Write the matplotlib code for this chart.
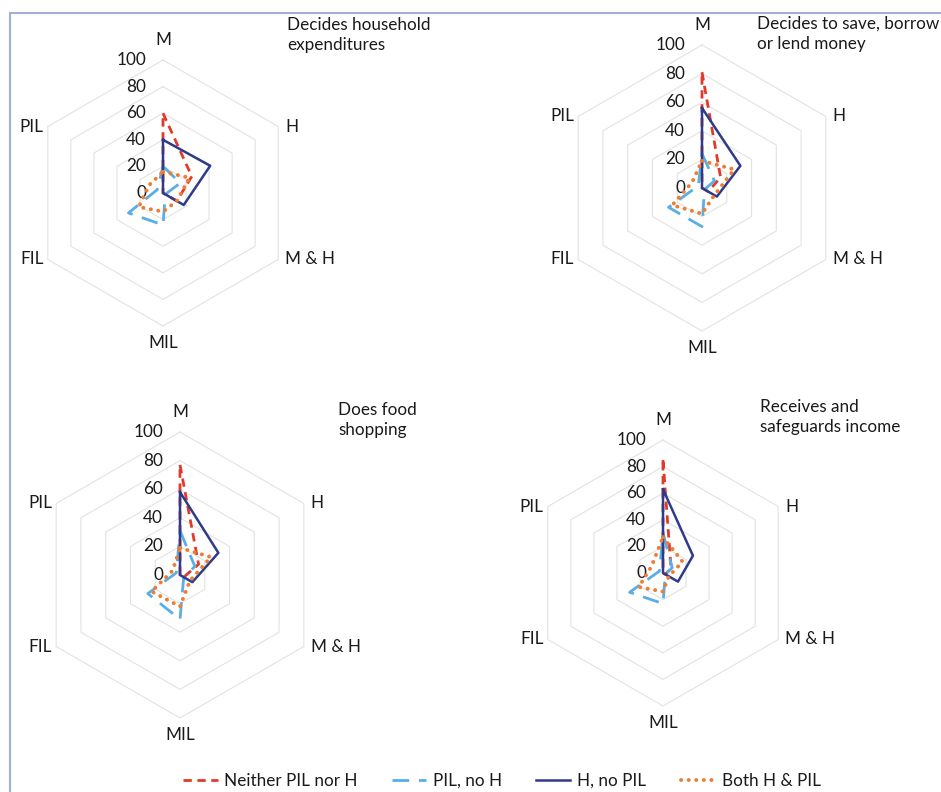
import numpy as np
import matplotlib
matplotlib.use("Agg")
import matplotlib.pyplot as plt
from matplotlib.lines import Line2D
from matplotlib.patches import Rectangle

plt.rcParams['font.family'] = ['Lato', 'DejaVu Sans']

# ---------------- data ----------------
categories = ["M", "H", "M & H", "MIL", "FIL", "PIL"]
ring_values = [0, 20, 40, 60, 80, 100]
series_names = ["Neither PIL nor H", "PIL, no H", "H, no PIL", "Both H & PIL"]

titles = ["Decides household\nexpenditures",
          "Decides to save, borrow\nor lend money",
          "Does food\nshopping",
          "Receives and\nsafeguards income"]

# order: M, H, M & H, MIL, FIL, PIL
p1_neither = [60, 25, 12, 0, 0, 0]
p1_pil_no_h = [20, 15, 2, 24, 30, 5]
p1_h_no_pil = [40, 41, 18, 0, 0, 0]
p1_both = [16, 23, 12, 14, 21, 12]

p2_neither = [81, 15, 5, 0, 0, 0]
p2_pil_no_h = [24, 10, 2, 27, 27, 3]
p2_h_no_pil = [56, 31, 12, 0, 0, 0]
p2_both = [19, 26, 10, 18, 24, 8]

p3_neither = [77, 15, 3, 0, 0, 0]
p3_pil_no_h = [31, 12, 3, 31, 26, 3]
p3_h_no_pil = [58, 31, 10, 0, 0, 0]
p3_both = [19, 25, 8, 22, 23, 6]

p4_neither = [85, 7, 2, 0, 0, 0]
p4_pil_no_h = [30, 8, 2, 23, 29, 3]
p4_h_no_pil = [63, 26, 13, 0, 0, 0]
p4_both = [27, 17, 5, 14, 21, 10]

panels_data = [
    [p1_neither, p1_pil_no_h, p1_h_no_pil, p1_both],
    [p2_neither, p2_pil_no_h, p2_h_no_pil, p2_both],
    [p3_neither, p3_pil_no_h, p3_h_no_pil, p3_both],
    [p4_neither, p4_pil_no_h, p4_h_no_pil, p4_both],
]

# ---------------- layout ----------------
W, H = 941, 792
fig = plt.figure(figsize=(W / 100, H / 100), dpi=100)
fig.patch.set_facecolor("white")

# centre (px), radius of 100-ring (px), title anchor (px)
panel_geom = [
    dict(cx=163, cy=193, R=133, tx=287, ty=17),
    dict(cx=702, cy=188, R=143, tx=757, ty=16),
    dict(cx=180, cy=575, R=143, tx=338, ty=402),
    dict(cx=663, cy=573, R=133, tx=760, ty=399),
]

styles = [
    dict(color="#e23a2a", lw=2.0, dashes=(3, 2), dash_capstyle="butt"),
    dict(color="#5aaee3", lw=2.0, dashes=(6, 3.5), dash_capstyle="butt"),
    dict(color="#2e3b8a", lw=1.8, linestyle="-"),
    dict(color="#ee7d31", lw=2.8, dashes=(0.05, 1.9), dash_capstyle="round"),
]

angles = np.deg2rad(np.arange(6) * 60.0)
sx, sy = np.sin(angles), np.cos(angles)
FS = 12.3
TC = "#1a1a1a"

for g, data, title in zip(panel_geom, panels_data, titles):
    cx, cy, R = g["cx"], g["cy"], g["R"]
    half = 1.25 * R
    lim = 125.0
    ax = fig.add_axes([(cx - half) / W, (H - cy - half) / H, 2 * half / W, 2 * half / H])
    ax.set_xlim(-lim, lim)
    ax.set_ylim(-lim, lim)
    ax.set_aspect("equal")
    ax.axis("off")
    px = 100.0 / R  # data units per pixel

    # hexagonal rings
    for v in ring_values[1:]:
        xs = np.append(v * sx, v * sx[0])
        ys = np.append(v * sy, v * sy[0])
        ax.plot(xs, ys, color="#e2e2e2", lw=0.8, zorder=1)

    # ring labels
    for v in ring_values:
        ax.text(-17 * px, v, str(v), ha="right", va="center", fontsize=FS, color=TC)

    # category labels
    for i, c in enumerate(categories):
        x, y = 100 * sx[i], 100 * sy[i]
        if i == 0:
            ax.text(x, y + 20 * px, c, ha="center", va="center", fontsize=FS, color=TC)
        elif i == 3:
            ax.text(x, y - 17 * px, c, ha="center", va="center", fontsize=FS, color=TC)
        elif i in (1, 2):
            ax.text(x + 7 * px, y, c, ha="left", va="center", fontsize=FS, color=TC)
        else:
            ax.text(x - 4 * px, y, c, ha="right", va="center", fontsize=FS, color=TC)

    # series
    for k, (vals, st) in enumerate(zip(data, styles)):
        v = np.array(vals, dtype=float)
        xs = np.append(v * sx, v[0] * sx[0])
        ys = np.append(v * sy, v[0] * sy[0])
        ax.plot(xs, ys, zorder=3 + k, clip_on=False, **st)

    fig.text(g["tx"] / W, 1 - g["ty"] / H, title, ha="left", va="top",
             fontsize=FS, linespacing=1.3, color=TC)

# legend
handles = [Line2D([0], [0], **st) for st in styles]
fig.legend(handles, series_names, loc="center", bbox_to_anchor=(502 / W, 1 - 781 / H),
           ncol=4, frameon=False, fontsize=FS, handlelength=2.0, columnspacing=2.0,
           handletextpad=0.4, labelcolor=TC)

# outer border
fig.patches.append(Rectangle((10 / W, -0.1), 1.2, 1 - 13 / H + 0.1, transform=fig.transFigure,
                             fill=False, edgecolor="#9fb0d8", lw=1.5))

fig.savefig("out.png", dpi=100, facecolor="white")
